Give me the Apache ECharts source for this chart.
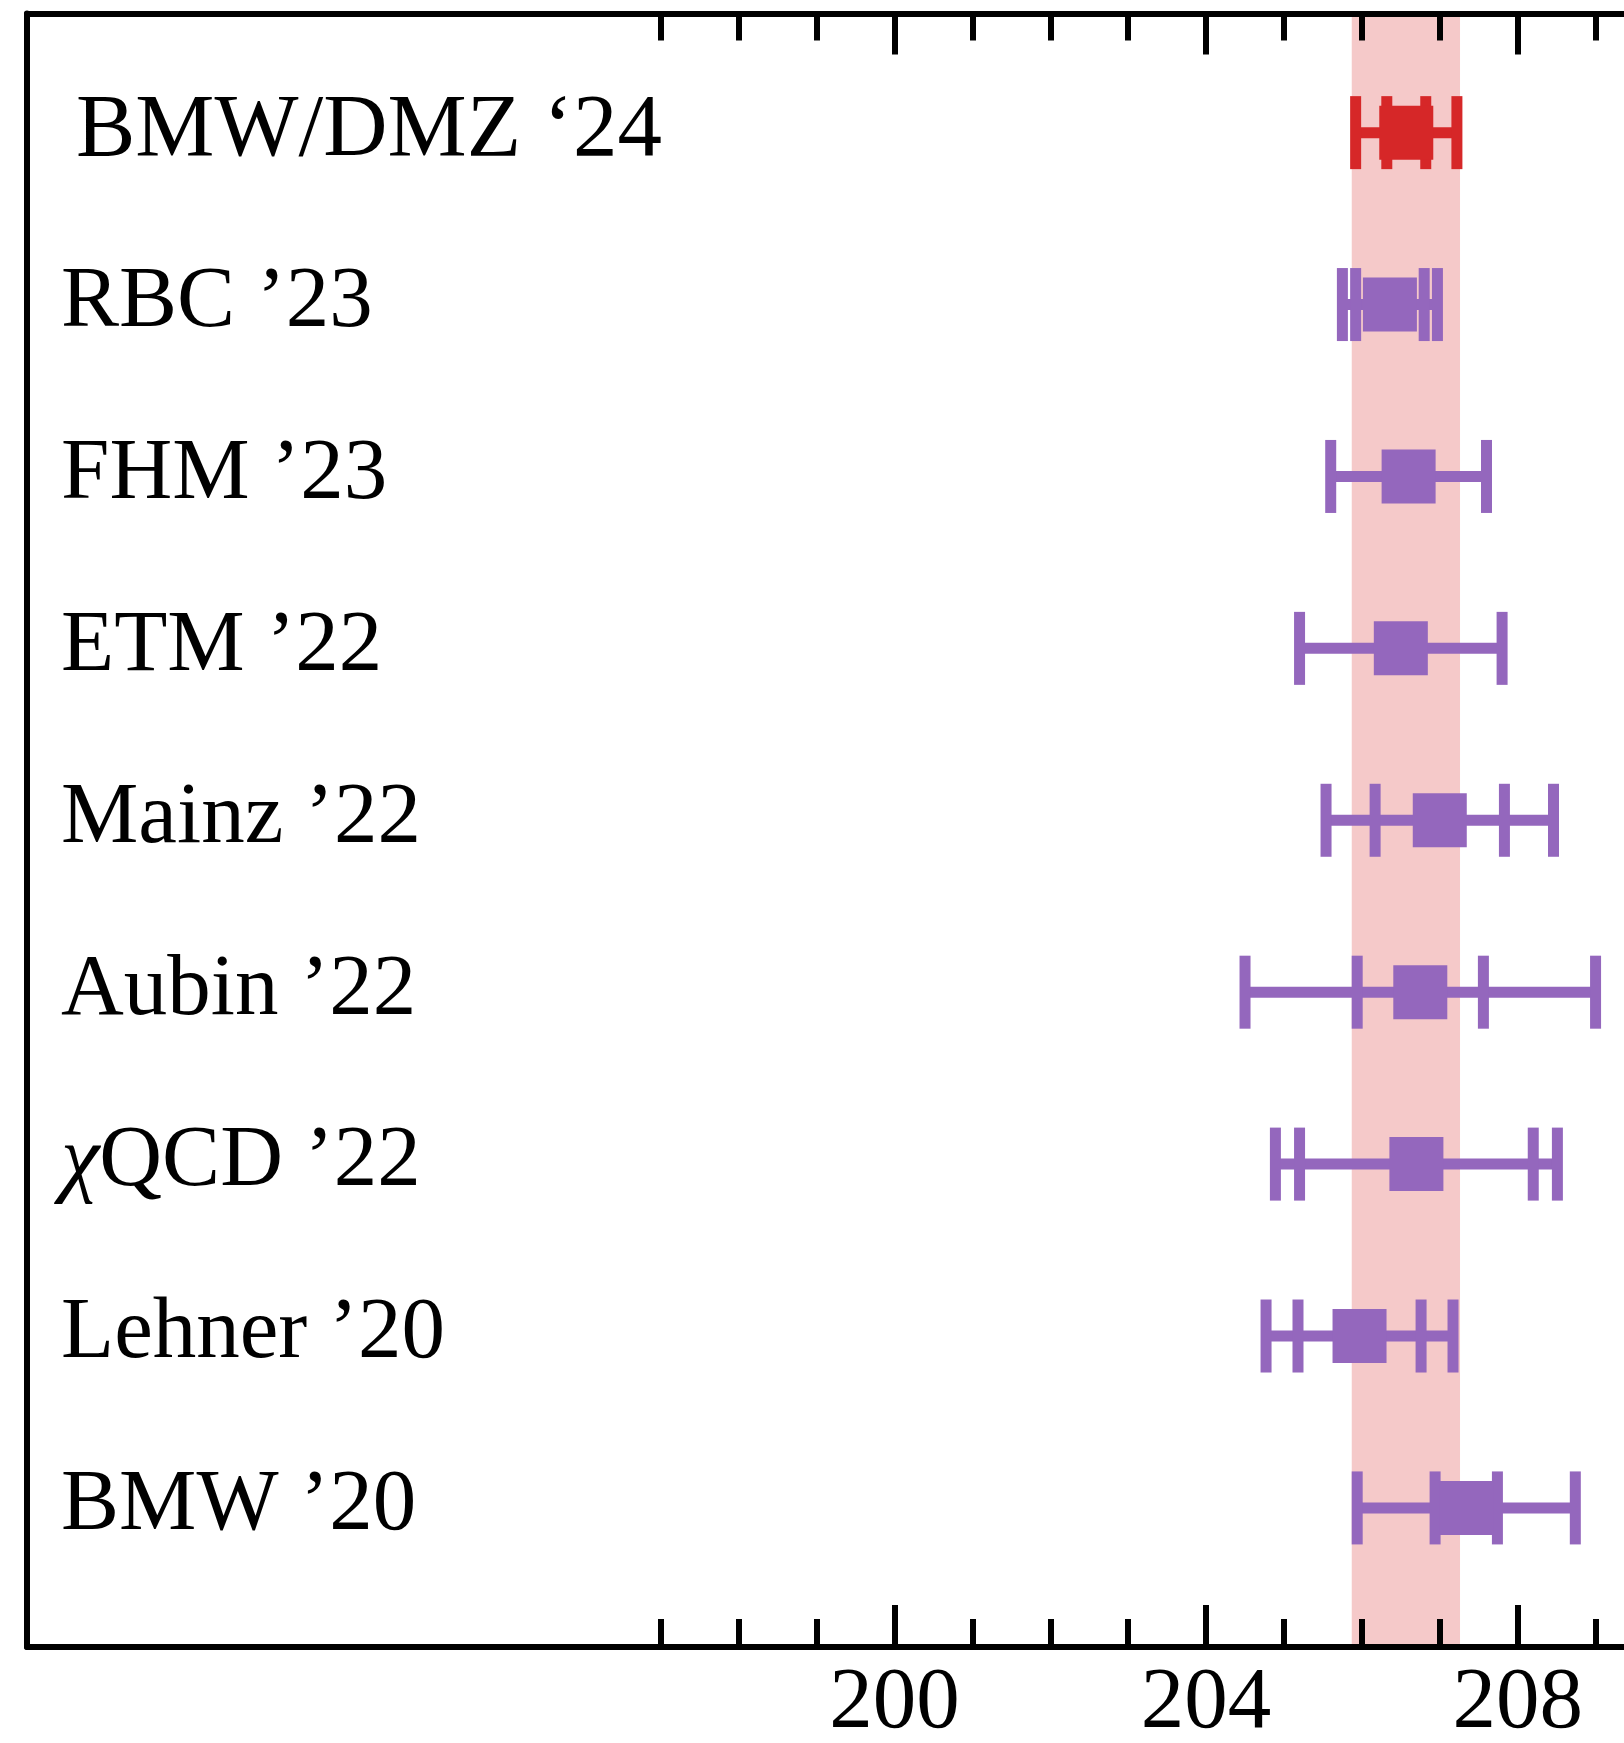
<!DOCTYPE html>
<html>
<head>
<meta charset="utf-8">
<script src="https://cdn.jsdelivr.net/npm/echarts@6/dist/echarts.min.js"></script>
<style>
html,body{margin:0;padding:0;background:#fff;}
#chart{width:1624px;height:1743px;}
</style>
</head>
<body>
<div id="chart"></div>
<script>
//数据
var names = ['BMW/DMZ ‘24', 'RBC ’23', 'FHM ’23', 'ETM ’22', 'Mainz ’22', 'Aubin ’22', 'χQCD ’22', 'Lehner ’20', 'BMW ’20'];
var centers = [206.57, 206.36, 206.60, 206.50, 207.00, 206.75, 206.70, 205.97, 207.34];
var innerErr = [0.25, 0.44, 1.00, 1.30, 0.83, 0.81, 1.50, 0.79, 0.40];
var outerErr = [0.65, 0.61, 1.00, 1.30, 1.46, 2.25, 1.81, 1.20, 1.40];
var band = [205.87, 207.26];
var majorTicks = [200, 204, 208];
var minorTicks = [197, 198, 199, 200, 201, 202, 203, 204, 205, 206, 207, 208, 209];
var rowIdx = [0, 1, 2, 3, 4, 5, 6, 7, 8];

var xMin = 188.864, xMax = 209.365;
var yMin = -0.693, yMax = 8.809;
var serif = "'Liberation Serif', 'Times New Roman', serif";
var purple = '#9467bd', red = '#d62728';

//误差棒数据
var barData = [];
for (var i = 0; i < names.length; i++) {
	barData.push([centers[i], rowIdx[i], innerErr[i], outerErr[i]]);
}

//x轴生成
function makeX(grid, pos, ticks, len, withLabel, lineShow){
	return {
		type: 'value', gridIndex: grid, position: pos, min: xMin, max: xMax, z: 5,
		axisLine: {show: lineShow, onZero: false, lineStyle: {color: '#000', width: 6}},
		axisTick: {show: true, inside: true, length: len, customValues: ticks, lineStyle: {color: '#000', width: 6}},
		axisLabel: {show: withLabel, customValues: ticks, margin: 14, fontSize: 87, fontFamily: serif, color: '#000'},
		splitLine: {show: false}
	};
}

var gridBox = {left: 27, right: 0, top: 13.5, bottom: 96, containLabel: false, outerBoundsMode: 'none'};

var chart = echarts.init(document.getElementById('chart'));
var option = {
	animation: false,
	backgroundColor: '#fff',
	grid: [gridBox, echarts.util.clone(gridBox)],
	xAxis: [
		makeX(0, 'bottom', minorTicks, 28, false, true),
		makeX(0, 'top', minorTicks, 27, false, true),
		makeX(1, 'bottom', majorTicks, 42, true, false),
		makeX(1, 'top', majorTicks, 41, false, false)
	],
	yAxis: [{
		type: 'value', gridIndex: 0, inverse: true, min: yMin, max: yMax, z: 5,
		axisLine: {show: true, onZero: false, lineStyle: {color: '#000', width: 6}},
		axisTick: {show: false},
		splitLine: {show: false},
		axisLabel: {
			show: true, inside: true, align: 'left', margin: 34,
			customValues: rowIdx,
			fontSize: 87, fontFamily: serif, color: '#000',
			padding: [0, 0, 3, 0],
			formatter: function(v){
				var n = names[Math.round(v)];
				if (Math.round(v) === 0) return '{top|' + n + '}';
				if (n.charAt(0) === 'χ') return '{chi|χ}' + n.slice(1);
				return n;
			},
			rich: {
				top: {fontSize: 89, fontFamily: serif, padding: [0, 0, 0, 15]},
				chi: {fontSize: 87, fontFamily: serif, fontStyle: 'italic'}
			}
		}
	}, {
		type: 'value', gridIndex: 1, inverse: true, min: yMin, max: yMax,
		axisLine: {show: false, onZero: false}, axisTick: {show: false}, axisLabel: {show: false}, splitLine: {show: false}
	}],
	series: [
		{//误差带
			type: 'custom', z: 1, xAxisIndex: 0, yAxisIndex: 0,
			data: [[band[0], band[1]]],
			renderItem: function(params, api){
				var cs = params.coordSys;
				var a = api.coord([api.value(0), 0]);
				var b = api.coord([api.value(1), 0]);
				return {type: 'rect', shape: {x: a[0], y: cs.y, width: b[0] - a[0], height: cs.height},
					style: {fill: 'rgba(214,39,40,0.25)'}};
			}
		},
		{//各组结果
			type: 'custom', z: 3, xAxisIndex: 0, yAxisIndex: 0,
			data: barData,
			renderItem: function(params, api){
				var c = api.value(0), r = api.value(1), ei = api.value(2), eo = api.value(3);
				var col = params.dataIndex === 0 ? red : purple;
				var p = api.coord([c, r]);
				var lo = api.coord([c - eo, r]), hi = api.coord([c + eo, r]);
				var kids = [];
				kids.push({type: 'line', shape: {x1: lo[0], y1: p[1], x2: hi[0], y2: p[1]}, style: {stroke: col, lineWidth: 11}});
				var caps = [c - eo, c + eo];
				if (ei !== eo) caps.push(c - ei, c + ei);
				for (var k = 0; k < caps.length; k++) {
					var q = api.coord([caps[k], r]);
					kids.push({type: 'line', shape: {x1: q[0], y1: p[1] - 36.5, x2: q[0], y2: p[1] + 36.5}, style: {stroke: col, lineWidth: 11}});
				}
				kids.push({type: 'rect', shape: {x: p[0] - 27, y: p[1] - 27, width: 54, height: 54}, style: {fill: col}});
				return {type: 'group', children: kids};
			}
		}
	]
};
chart.setOption(option);
</script>
</body>
</html>
